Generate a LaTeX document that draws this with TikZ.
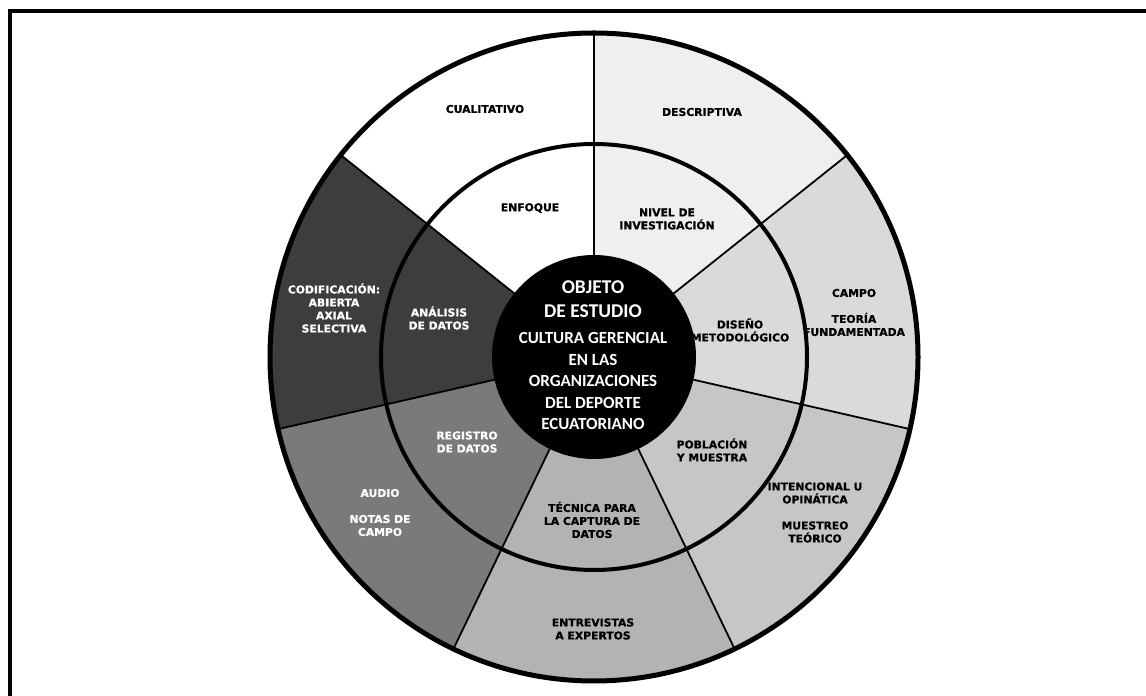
\documentclass[tikz,border=0pt]{standalone}
\usepackage{fontspec}
\newfontfamily\lblfont{DejaVu Sans}[BoldFeatures={FakeBold=0.8}]
\newfontfamily\ctrfont{Carlito}
\definecolor{cWhite}{HTML}{FFFFFF}
\definecolor{cDesc}{HTML}{EFEFEF}
\definecolor{cCampo}{HTML}{DADADA}
\definecolor{cInt}{HTML}{C6C6C6}
\definecolor{cEnt}{HTML}{B3B3B3}
\definecolor{cAudio}{HTML}{7A7A7A}
\definecolor{cCod}{HTML}{3D3D3D}
\tikzset{
  lab/.style={font=\lblfont\bfseries\fontsize{10.8}{13}\selectfont, align=center, text=black, inner sep=0pt},
  wlab/.style={lab, text=white},
  ctr/.style={font=\ctrfont\bfseries\fontsize{17}{21.5}\selectfont, text=white, align=center, inner sep=0pt},
  ctrtitle/.style={font=\ctrfont\bfseries\fontsize{19.5}{24}\selectfont, text=white, align=center, inner sep=0pt},
  divider/.style={line width=1.8pt, draw=black},
  ring/.style={line width=4pt, draw=black},
  outring/.style={line width=5pt, draw=black},
  frameline/.style={line width=4pt, draw=black}
}
\begin{document}
\begin{tikzpicture}[x=1pt,y=1pt]
\useasboundingbox (0,0) rectangle (1146,696);
\fill[white] (0,0) rectangle (1146,696);
\coordinate (C) at (594,339);
\def\Rout{324}
\def\Rmid{213}
\def\Rin{102}
% sectors
\fill[cDesc]  (C) -- +(38.5714:\Rout) arc[start angle=38.5714, end angle=90, radius=\Rout] -- cycle;
\fill[cCampo] (C) -- +(-12.8571:\Rout) arc[start angle=-12.8571, end angle=38.5714, radius=\Rout] -- cycle;
\fill[cInt]   (C) -- +(-64.2857:\Rout) arc[start angle=-64.2857, end angle=-12.8571, radius=\Rout] -- cycle;
\fill[cEnt]   (C) -- +(-115.7143:\Rout) arc[start angle=-115.7143, end angle=-64.2857, radius=\Rout] -- cycle;
\fill[cAudio] (C) -- +(-167.1429:\Rout) arc[start angle=-167.1429, end angle=-115.7143, radius=\Rout] -- cycle;
\fill[cCod]   (C) -- +(141.4286:\Rout) arc[start angle=141.4286, end angle=192.8571, radius=\Rout] -- cycle;
\fill[cWhite] (C) -- +(90:\Rout) arc[start angle=90, end angle=141.4286, radius=\Rout] -- cycle;
% dividers
\foreach \a in {90,38.5714,-12.8571,-64.2857,-115.7143,-167.1429,141.4286}
  \draw[divider] (C) ++(\a:\Rin) -- ++(\a:\Rout-\Rin);
% rings
\draw[ring] (C) circle[radius=\Rmid];
\draw[outring] (C) circle[radius=\Rout];
\fill[black] (C) circle[radius=\Rin];
% frame
\draw[frameline] (10,0) -- (10,684.5) -- (1146,684.5);
% center text
\node[ctrtitle] (title) at (593,397) {OBJETO\\DE ESTUDIO};
\node[ctr] (body) at (593,315) {CULTURA GERENCIAL\\EN LAS\\ORGANIZACIONES\\DEL DEPORTE\\ECUATORIANO};
% inner ring labels
\node[lab] (enfoque) at (530,488) {ENFOQUE};
\node[lab] (nivel) at (667,477) {NIVEL DE\\INVESTIGACIÓN};
\node[lab] (diseno) at (740,366) {DISEÑO\\METODOLÓGICO};
\node[lab] (poblacion) at (712,246) {POBLACIÓN\\Y MUESTRA};
\node[lab] (tecnica) at (592,176) {TÉCNICA PARA\\LA CAPTURA DE\\DATOS};
\node[wlab] (registro) at (467,254) {REGISTRO\\DE DATOS};
\node[wlab] (analisis) at (439,378) {ANÁLISIS\\DE DATOS};
% outer ring labels
\node[lab] (cualitativo) at (485,587) {CUALITATIVO};
\node[lab] (descriptiva) at (702,584) {DESCRIPTIVA};
\node[lab] (campo) at (854,383.5) {CAMPO\\[13pt]TEORÍA\\FUNDAMENTADA};
\node[lab] (intencional) at (815,183.5) {INTENCIONAL U\\OPINÁTICA\\[13pt]MUESTREO\\TEÓRICO};
\node[lab] (entrevistas) at (593,67) {ENTREVISTAS\\A EXPERTOS};
\node[wlab] (audio) at (380,183.5) {AUDIO\\[13pt]NOTAS DE\\CAMPO};
\node[wlab] (codif) at (334,388) {CODIFICACIÓN:\\ABIERTA\\AXIAL\\SELECTIVA};
\end{tikzpicture}
\end{document}
